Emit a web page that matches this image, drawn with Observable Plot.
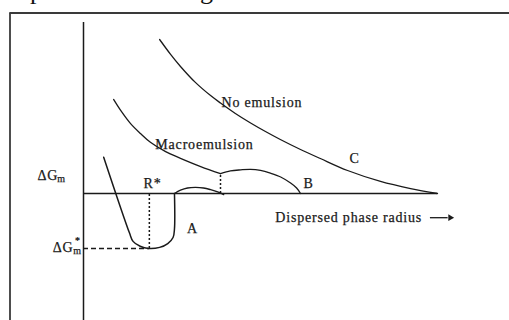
<!DOCTYPE html>
<html>
<head>
<meta charset="utf-8">
<script src="https://cdn.jsdelivr.net/npm/d3@7"></script>
<script src="https://cdn.jsdelivr.net/npm/@observablehq/plot@0.6"></script>
<style>
  html, body { margin: 0; padding: 0; background: #fff; }
  #wrap { position: relative; width: 509px; height: 320px; overflow: hidden; }
  #wrap svg { position: absolute; left: 0; top: 0; }
  #wrap svg text { letter-spacing: 0.8px; font-family: "Liberation Serif", "Times New Roman", serif;
                   stroke: #1a1a1a; stroke-width: 0.25px; }
  .cut { position: absolute; top: -21px; line-height: 24px; font-size: 26px;
         font-family: "Liberation Serif", "Times New Roman", serif; color: #111; }
</style>
</head>
<body>
<div id="wrap"></div>
<script>
// Schematic free-energy diagram (arbitrary units): x = dispersed phase radius, y = ΔG
// Curve C – no emulsion
const noEmulsionX = [2.15, 2.46, 2.74, 3.16, 3.59, 3.87, 4.29, 4.72, 5.14, 5.56, 6.13, 6.69, 7.46, 8.39, 9.24, 10];
const noEmulsionY = [2.80, 2.53, 2.31, 2.02, 1.78, 1.645, 1.455, 1.282, 1.127, 0.982, 0.80, 0.636, 0.418, 0.22, 0.09, 0];
// Macroemulsion branch
const macroX = [0.85, 1.05, 1.33, 1.61, 1.89, 2.32, 2.74, 3.31, 3.87];
const macroY = [1.71, 1.51, 1.27, 1.09, 0.93, 0.76, 0.64, 0.49, 0.36];
// Arc B
const arcBX = [3.87, 4.15, 4.44, 4.72, 5.00, 5.28, 5.57, 5.85, 6.02, 6.13];
const arcBY = [0.36, 0.41, 0.43, 0.44, 0.42, 0.37, 0.30, 0.19, 0.10, 0];
// Curve A (microemulsion well)
const wellX = [0.57, 1.30, 1.40, 1.60, 1.84, 2.15, 2.38, 2.53, 2.57, 2.57];
const wellY = [0.66, -0.72, -0.87, -0.96, -1.0, -0.98, -0.91, -0.80, -0.64, 0];
// Arc after A
const arcAX = [2.57, 2.74, 2.94, 3.16, 3.39, 3.59, 3.79, 3.96];
const arcAY = [0, 0.06, 0.10, 0.11, 0.10, 0.07, 0.03, -0.02];
// Key values
const rStar = 1.86;      // R*
const gStar = -1.0;      // ΔG*m
const splitX = 3.87;     // junction of macroemulsion and arc B
const splitY = 0.36;
const xAxisEnd = 10;
const yAxisTop = 3.11;

// Text labels
const startLabels = [
  {x: 3.90, y: 1.655, text: "No emulsion"},
  {x: 2.03, y: 0.89, text: "Macroemulsion"},
  {x: 5.42, y: -0.44, text: "Dispersed phase radius"},
  {x: -1.30, y: 0.33, text: "ΔG"},
  {x: -0.87, y: -0.98, text: "ΔG"}
];
const middleLabels = [
  {x: 7.66, y: 0.64, text: "C"},
  {x: 6.36, y: 0.18, text: "B"},
  {x: 3.08, y: -0.64, text: "A"},
  {x: 1.95, y: 0.18, text: "R*"}
];
const subLabels = [
  {x: -0.74, y: 0.26, text: "m"},
  {x: -0.29, y: -1.05, text: "m"},
  {x: -0.24, y: -0.86, text: "*"}
];

const zip = (xs, ys) => xs.map((x, i) => ({x, y: ys[i]}));
const ink = "#1a1a1a";

const xLeft = -83 / 35.4, xRight = (509 - 83) / 35.4;
const yBottom = -127 / 55, yTop = 193 / 55;
const frameX = (9.5 - 83) / 35.4, frameY = (193 - 12.5) / 55;

const chart = Plot.plot({
  width: 509, height: 320,
  marginTop: 0, marginRight: 0, marginBottom: 0, marginLeft: 0,
  x: {domain: [xLeft, xRight], axis: null},
  y: {domain: [yBottom, yTop], axis: null},
  style: {background: "transparent"},
  marks: [
    // outer frame (left and top only visible)
    Plot.ruleX([frameX], {y1: yBottom, y2: frameY, stroke: "#3a3a3a", strokeWidth: 1.8}),
    Plot.ruleY([frameY], {x1: frameX, x2: xRight, stroke: "#3a3a3a", strokeWidth: 1.8}),
    // axes
    Plot.ruleX([0], {y1: yBottom, y2: yAxisTop, stroke: ink, strokeWidth: 1.5}),
    Plot.ruleY([0], {x1: 0, x2: xAxisEnd, stroke: ink, strokeWidth: 1.5}),
    // guides
    Plot.ruleX([rStar], {y1: gStar, y2: 0, stroke: ink, strokeWidth: 1.5, strokeDasharray: "2,2"}),
    Plot.ruleY([gStar], {x1: 0, x2: rStar, stroke: ink, strokeWidth: 1.5, strokeDasharray: "5,3"}),
    Plot.ruleX([splitX], {y1: 0, y2: splitY, stroke: ink, strokeWidth: 1.5, strokeDasharray: "2,2"}),
    // curves
    Plot.line(zip(noEmulsionX, noEmulsionY), {x: "x", y: "y", curve: "catmull-rom", stroke: ink, strokeWidth: 1.3}),
    Plot.line(zip(macroX, macroY), {x: "x", y: "y", curve: "catmull-rom", stroke: ink, strokeWidth: 1.3}),
    Plot.line(zip(arcBX, arcBY), {x: "x", y: "y", curve: "catmull-rom", stroke: ink, strokeWidth: 1.3}),
    Plot.line(zip(wellX, wellY), {x: "x", y: "y", curve: "catmull-rom", stroke: ink, strokeWidth: 1.5}),
    Plot.line(zip(arcAX, arcAY), {x: "x", y: "y", curve: "catmull-rom", stroke: ink, strokeWidth: 1.3}),
    // arrow after axis title
    Plot.ruleY([-0.44], {x1: 9.80, x2: 10.30, stroke: ink, strokeWidth: 1.3}),
    Plot.dot([{x: 10.36, y: -0.44}], {x: "x", y: "y", symbol: "triangle2", r: 3.2, rotate: 90, fill: ink, stroke: "none"}),
    // labels
    Plot.text(startLabels, {x: "x", y: "y", text: "text", textAnchor: "start", fontSize: 14, fill: ink}),
    Plot.text(middleLabels, {x: "x", y: "y", text: "text", textAnchor: "middle", fontSize: 14, fill: ink}),
    Plot.text(subLabels, {x: "x", y: "y", text: "text", textAnchor: "start", fontSize: 10, fill: ink})
  ]
});

document.getElementById("wrap").appendChild(chart);
const s1 = document.createElement("span"); s1.className = "cut"; s1.style.left = "30px"; s1.textContent = "p";
const s2 = document.createElement("span"); s2.className = "cut"; s2.style.left = "200px"; s2.textContent = "g";
document.getElementById("wrap").appendChild(s1);
document.getElementById("wrap").appendChild(s2);
</script>
</body>
</html>
